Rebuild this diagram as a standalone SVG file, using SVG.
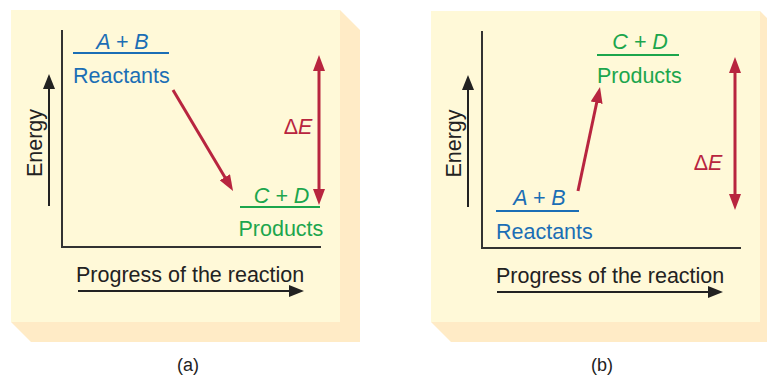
<svg xmlns="http://www.w3.org/2000/svg" width="767" height="377" viewBox="0 0 767 377">
<style>
  .front { fill: #FFF9D8; }
  .side { fill: #FFEBC6; }
  .axis { stroke: #333333; stroke-width: 2; fill: none; }
  .t { font-family: "Liberation Sans", Arial, sans-serif; font-size: 21.5px; }
  .it { font-style: italic; }
  .blue { fill: #1B6EB5; }
  .green { fill: #1CA64D; }
  .red { fill: #B8253F; }
  .dark { fill: #222222; }
  .cap { font-family: "Liberation Sans", Arial, sans-serif; font-size: 18px; fill: #222222; }
  .ulb { stroke: #1B6EB5; stroke-width: 2; }
  .ulg { stroke: #1CA64D; stroke-width: 2; }
  .redl { stroke: #B8253F; stroke-width: 3; fill: none; }
  .blkl { stroke: #222222; stroke-width: 2; fill: none; }
</style>
<defs>
  <marker id="redHead" markerUnits="userSpaceOnUse" markerWidth="16" markerHeight="12" refX="3" refY="6" orient="auto-start-reverse" viewBox="0 0 16 12">
    <path d="M0,0 L16,6 L0,12 z" fill="#B8253F"/>
  </marker>
  <marker id="blkHead" markerUnits="userSpaceOnUse" markerWidth="15" markerHeight="12" refX="3" refY="6" orient="auto" viewBox="0 0 15 12">
    <path d="M0,0 L15,6 L0,12 z" fill="#222222"/>
  </marker>
</defs>

<g id="panel-a">
  <polygon class="side" points="11,322 340,322 340,10 360,30 360,342 31,342"/>
  <rect class="front" x="11" y="10" width="329" height="312"/>
  <polyline class="axis" points="62,30 62,247 321,247"/>
</g>
<g id="panel-b">
  <polygon class="side" points="431,322 760,322 760,11 780,31 780,342 451,342"/>
  <rect class="front" x="431" y="11" width="329" height="311"/>
  <polyline class="axis" points="482,31 482,248 741,248"/>
</g>

<g id="a-reactants">
  <text class="t it blue" x="122.5" y="49" text-anchor="middle">A + B</text>
  <line class="ulb" x1="73" y1="53" x2="169" y2="53"/>
  <text class="t blue" x="73" y="82.5">Reactants</text>
</g>
<g id="a-products">
  <text class="t it green" x="281.5" y="203" text-anchor="middle">C + D</text>
  <line class="ulg" x1="240" y1="207" x2="320" y2="207"/>
  <text class="t green" x="238.5" y="236">Products</text>
</g>
<g id="a-labels">
  <text class="t red" x="298" y="134" text-anchor="middle">Δ<tspan class="it">E</tspan></text>
  <text class="t dark" transform="translate(42,143) rotate(-90)" text-anchor="middle">Energy</text>
  <text class="t dark" x="76" y="281.5">Progress of the reaction</text>
  <text class="cap" x="188" y="371" text-anchor="middle">(a)</text>
</g>

<g id="b-reactants">
  <text class="t it blue" x="539.5" y="204.5" text-anchor="middle">A + B</text>
  <line class="ulb" x1="496" y1="211" x2="579" y2="211"/>
  <text class="t blue" x="496" y="239">Reactants</text>
</g>
<g id="b-products">
  <text class="t it green" x="640" y="48.5" text-anchor="middle">C + D</text>
  <line class="ulg" x1="597" y1="55" x2="679" y2="55"/>
  <text class="t green" x="597" y="82.5">Products</text>
</g>
<g id="b-labels">
  <text class="t red" x="708" y="169.5" text-anchor="middle">Δ<tspan class="it">E</tspan></text>
  <text class="t dark" transform="translate(461,143.5) rotate(-90)" text-anchor="middle">Energy</text>
  <text class="t dark" x="496" y="283">Progress of the reaction</text>
  <text class="cap" x="602" y="371" text-anchor="middle">(b)</text>
</g>

<g id="connectors">
  <line class="redl" x1="173" y1="90" x2="226.4" y2="179.8" marker-end="url(#redHead)"/>
  <line class="redl" x1="319" y1="68" x2="319" y2="192" marker-start="url(#redHead)" marker-end="url(#redHead)"/>
  <line class="blkl" x1="49" y1="206" x2="49" y2="86" marker-end="url(#blkHead)"/>
  <line class="blkl" x1="78" y1="291" x2="292" y2="291" marker-end="url(#blkHead)"/>

  <line class="redl" x1="578" y1="191" x2="597.3" y2="99.7" marker-end="url(#redHead)"/>
  <line class="redl" x1="735" y1="70" x2="735" y2="197" marker-start="url(#redHead)" marker-end="url(#redHead)"/>
  <line class="blkl" x1="468" y1="207" x2="468" y2="87" marker-end="url(#blkHead)"/>
  <line class="blkl" x1="497" y1="292" x2="711" y2="292" marker-end="url(#blkHead)"/>
</g>
</svg>
